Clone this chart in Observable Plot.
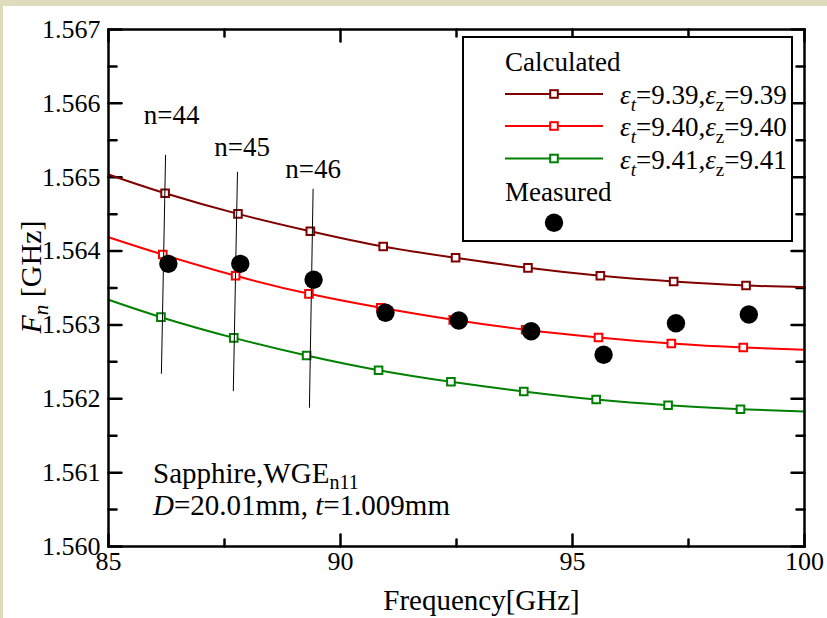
<!DOCTYPE html>
<html><head><meta charset="utf-8">
<script src="https://cdn.jsdelivr.net/npm/d3@7"></script>
<script src="https://cdn.jsdelivr.net/npm/@observablehq/plot@0.6"></script>
<style>
html,body{margin:0;padding:0;background:#dfdcbd;width:827px;height:618px;overflow:hidden;}
#wrap{position:absolute;left:3px;top:6px;width:824px;height:612px;background:#fff;}
#wrap svg{display:block;font-family:'Liberation Serif','Times New Roman',serif !important;}
#wrap svg text{font-family:'Liberation Serif','Times New Roman',serif !important;}
</style></head><body><div id="wrap"></div>
<script>
// ---- axis ticks ----
const xTicks = [85, 90, 95, 100];
const xMinor = [87.5, 92.5, 97.5];
const yTicks = [1.560, 1.561, 1.562, 1.563, 1.564, 1.565, 1.566, 1.567];
const yMinor = [1.5605, 1.5615, 1.5625, 1.5635, 1.5645, 1.5655, 1.5665];

// ---- calculated series (marker positions) ----
const calcA_x = [86.22, 87.79, 89.35, 90.92, 92.48, 94.04, 95.60, 97.18, 98.74];
const calcA_y = [1.564783, 1.564504, 1.564269, 1.564062, 1.563909, 1.563773, 1.563665, 1.563588, 1.563534];
const calcA_ends = [[85, 1.565037], [100, 1.563511]];

const calcB_x = [86.17, 87.74, 89.32, 90.87, 92.43, 93.99, 95.56, 97.13, 98.68];
const calcB_y = [1.563953, 1.563665, 1.563421, 1.563232, 1.563069, 1.562934, 1.562830, 1.562748, 1.562694];
const calcB_ends = [[85, 1.564188], [100, 1.562663]];

const calcC_x = [86.13, 87.70, 89.27, 90.82, 92.38, 93.95, 95.51, 97.06, 98.62];
const calcC_y = [1.563105, 1.562825, 1.562586, 1.562387, 1.562230, 1.562099, 1.561990, 1.561913, 1.561859];
const calcC_ends = [[85, 1.563340], [100, 1.561828]];

const seriesLabels = ["9.39", "9.40", "9.41"];
const seriesColors = ["#800000", "#ff0000", "#008000"];

// ---- measured ----
const meas_x = [86.29, 87.84, 89.42, 90.97, 92.55, 94.11, 95.67, 97.23, 98.80];
const meas_y = [1.563827, 1.563827, 1.563611, 1.563164, 1.563060, 1.562915, 1.562596, 1.563023, 1.563141];

// ---- mode lines n=44..46 ----
const modeN = [44, 45, 46];
const mode_x1 = [86.23, 87.78, 89.41];
const mode_y1 = [1.565303, 1.565073, 1.564843];
const mode_x2 = [86.14, 87.69, 89.33];
const mode_y2 = [1.562338, 1.562103, 1.561878];
const modeLabel_x = [86.36, 87.88, 89.41];
const modeLabel_y = [1.565714, 1.565294, 1.564996];

// ---- build tables ----
const mk = (xs, ys) => xs.map((x, i) => ({x, y: ys[i]}));
const lineData = (xs, ys, ends) => [{x: ends[0][0], y: ends[0][1]}, ...mk(xs, ys), {x: ends[1][0], y: ends[1][1]}];
const series = [
  {m: mk(calcA_x, calcA_y), l: lineData(calcA_x, calcA_y, calcA_ends)},
  {m: mk(calcB_x, calcB_y), l: lineData(calcB_x, calcB_y, calcB_ends)},
  {m: mk(calcC_x, calcC_y), l: lineData(calcC_x, calcC_y, calcC_ends)}
];
const measured = mk(meas_x, meas_y);
const modes = modeN.map((n, i) => ({n, x1: mode_x1[i], y1: mode_y1[i], x2: mode_x2[i], y2: mode_y2[i], lx: modeLabel_x[i], ly: modeLabel_y[i]}));

const tickShape = {draw(ctx, l) { ctx.moveTo(0, 0); ctx.lineTo(0, -l); }};
const FONT = "'Liberation Serif', 'Times New Roman', serif";

const marks = [
  Plot.axisX(xTicks, {tickSize: 0, tickPadding: 5, fontSize: 26, tickFormat: d => String(d), label: null}),
  Plot.axisY(yTicks, {tickSize: 0, tickPadding: 8, fontSize: 26, tickFormat: d3.format(".3f"), label: null}),
  // inward ticks on four sides
  Plot.vector(xTicks, {x: d => d, frameAnchor: "bottom", length: 12, rotate: 0, anchor: "start", shape: tickShape, strokeWidth: 2.5}),
  Plot.vector(xMinor, {x: d => d, frameAnchor: "bottom", length: 7, rotate: 0, anchor: "start", shape: tickShape, strokeWidth: 2.5}),
  Plot.vector(xTicks, {x: d => d, frameAnchor: "top", length: 12, rotate: 180, anchor: "start", shape: tickShape, strokeWidth: 2.5}),
  Plot.vector(xMinor, {x: d => d, frameAnchor: "top", length: 7, rotate: 180, anchor: "start", shape: tickShape, strokeWidth: 2.5}),
  Plot.vector(yTicks, {y: d => d, frameAnchor: "left", length: 13, rotate: 90, anchor: "start", shape: tickShape, strokeWidth: 2.5}),
  Plot.vector(yMinor, {y: d => d, frameAnchor: "left", length: 8, rotate: 90, anchor: "start", shape: tickShape, strokeWidth: 2.5}),
  Plot.vector(yTicks, {y: d => d, frameAnchor: "right", length: 13, rotate: 270, anchor: "start", shape: tickShape, strokeWidth: 2.5}),
  Plot.vector(yMinor, {y: d => d, frameAnchor: "right", length: 8, rotate: 270, anchor: "start", shape: tickShape, strokeWidth: 2.5}),
];
series.forEach((s, i) => {
  marks.push(Plot.line(s.l, {x: "x", y: "y", stroke: seriesColors[i], strokeWidth: 2, curve: "natural"}));
});
series.forEach((s, i) => {
  marks.push(Plot.dot(s.m, {x: "x", y: "y", symbol: "square", r: 4.3, stroke: seriesColors[i], fill: "white", strokeWidth: 2}));
});
marks.push(Plot.link(modes, {x1: "x1", y1: "y1", x2: "x2", y2: "y2", stroke: "black", strokeWidth: 1}));
marks.push(Plot.text(modes, {x: "lx", y: "ly", text: d => "n=" + d.n, lineAnchor: "bottom", textAnchor: "middle", fontSize: 27, ariaLabel: "mode-label"}));
marks.push(Plot.dot(measured, {x: "x", y: "y", r: 9.2, fill: "black"}));
marks.push(Plot.frame({strokeWidth: 2.5}));

const svg = Plot.plot({
  width: 824, height: 612,
  marginLeft: 105, marginRight: 23, marginTop: 23, marginBottom: 72,
  x: {domain: [85, 100]},
  y: {domain: [1.560, 1.567]},
  style: {fontFamily: FONT, background: "white", color: "black", overflow: "visible"},
  marks
});
document.getElementById("wrap").appendChild(svg);

const S = d3.select(svg);
// italic n in mode labels
S.selectAll('g[aria-label="mode-label"] text').each(function() {
  const t = d3.select(this);
  const s = t.text();
  t.text(null);
  t.append("tspan").attr("font-style", "italic").text("n");
  t.append("tspan").text(s.slice(1));
});

const g = S.append("g").attr("font-family", FONT).attr("fill", "black").attr("text-anchor", "start");

// legend
g.append("rect").attr("x", 460).attr("y", 31).attr("width", 329).attr("height", 204)
  .attr("fill", "white").attr("stroke", "black").attr("stroke-width", 2);
g.append("text").attr("x", 502).attr("y", 65).attr("font-size", 27).text("Calculated");
const rowY = [88, 120, 152.5];
seriesLabels.forEach((lab, i) => {
  const y = rowY[i];
  g.append("line").attr("x1", 502).attr("x2", 600).attr("y1", y).attr("y2", y)
    .attr("stroke", seriesColors[i]).attr("stroke-width", 2);
  g.append("rect").attr("x", 551 - 3.8).attr("y", y - 3.8).attr("width", 7.6).attr("height", 7.6)
    .attr("fill", "white").attr("stroke", seriesColors[i]).attr("stroke-width", 2);
  const t = g.append("text").attr("x", 617).attr("y", y + 10).attr("font-size", 27);
  t.append("tspan").attr("font-style", "italic").text("ε");
  t.append("tspan").attr("font-style", "italic").attr("font-size", 19).attr("dy", 7).text("t");
  t.append("tspan").attr("dy", -7).text("=" + lab + ",");
  t.append("tspan").attr("font-style", "italic").text("ε");
  t.append("tspan").attr("font-size", 19).attr("dy", 7).text("z");
  t.append("tspan").attr("dy", -7).text("=" + lab);
});
g.append("text").attr("x", 502).attr("y", 195).attr("font-size", 27).text("Measured");
g.append("circle").attr("cx", 551).attr("cy", 216.7).attr("r", 9.2).attr("fill", "black");

// annotation
const a1 = g.append("text").attr("x", 150).attr("y", 477).attr("font-size", 29);
a1.append("tspan").text("Sapphire,WGE");
a1.append("tspan").attr("font-size", 20).attr("dy", 6).text("n11");
const a2 = g.append("text").attr("x", 150).attr("y", 509).attr("font-size", 29);
a2.append("tspan").attr("font-style", "italic").text("D");
a2.append("tspan").text("=20.01mm, ");
a2.append("tspan").attr("font-style", "italic").text("t");
a2.append("tspan").text("=1.009mm");

// axis titles
g.append("text").attr("x", 478.5).attr("y", 604).attr("font-size", 29).attr("text-anchor", "middle").text("Frequency[GHz]");
const yt = g.append("text").attr("transform", "translate(38,271) rotate(-90)").attr("font-size", 30).attr("text-anchor", "middle");
yt.append("tspan").attr("font-style", "italic").text("F");
yt.append("tspan").attr("font-style", "italic").attr("font-size", 21).attr("dy", 7).text("n");
yt.append("tspan").attr("dy", -7).text(" [GHz]");
</script>
</body></html>
